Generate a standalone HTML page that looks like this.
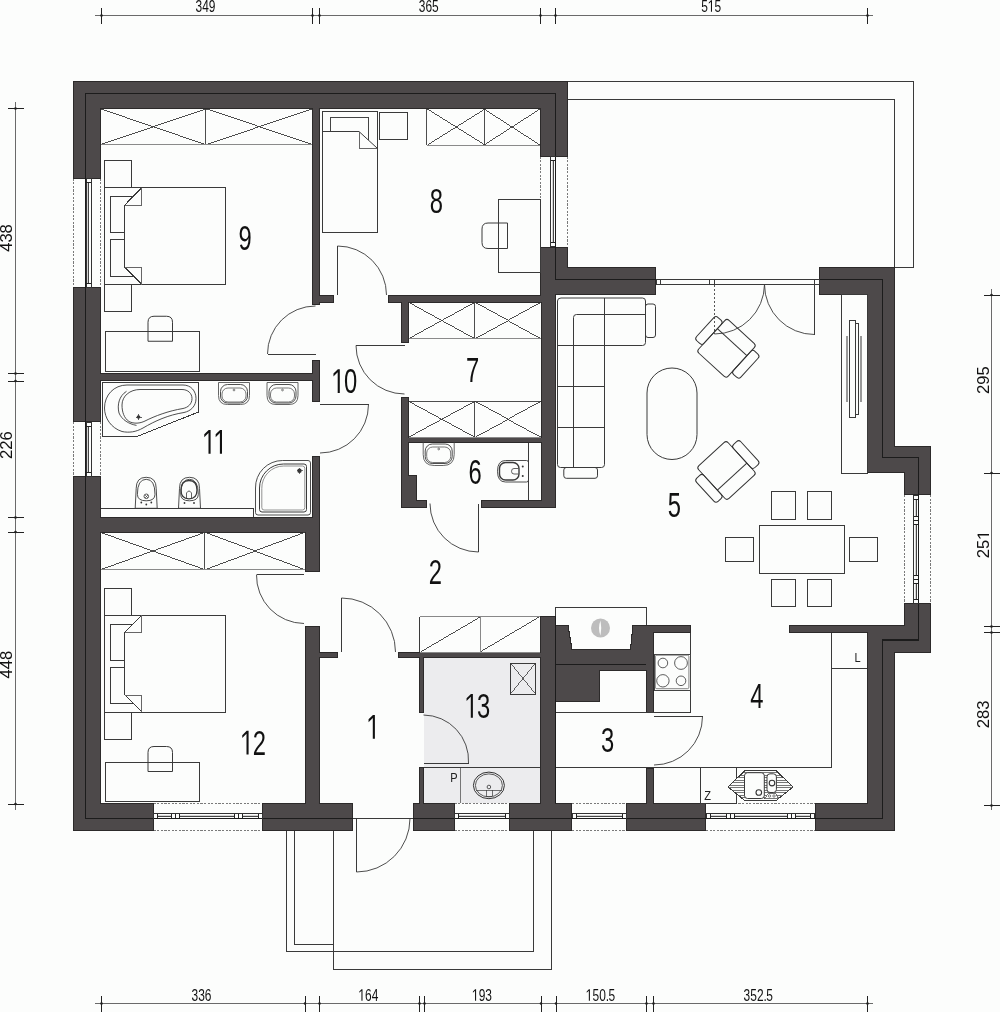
<!DOCTYPE html>
<html><head><meta charset="utf-8"><title>Floor plan</title>
<style>html,body{margin:0;padding:0;background:#fcfdfc;} svg{display:block;} svg{will-change:transform;}</style>
</head><body>
<svg width="1000" height="1012" viewBox="0 0 1000 1012" font-family="Liberation Sans, sans-serif" shape-rendering="crispEdges">
<rect x="0" y="0" width="1000" height="1012" fill="#fcfdfc"/>
<path d="M567,81.5 H913.5 V267.5 H894" stroke="#3a3a3a" stroke-width="1" fill="none" />
<path d="M567,99.5 H894.5 V268" stroke="#3a3a3a" stroke-width="1" fill="none" />
<path d="M286.5,831 V951.5 H533.5 V831" stroke="#3a3a3a" stroke-width="1" fill="none" />
<path d="M294.5,831 V944.5 H333.5" stroke="#3a3a3a" stroke-width="1" fill="none" />
<path d="M333.5,831 V969.5 H551.5 V831" stroke="#3a3a3a" stroke-width="1" fill="none" />
<rect x="423.5" y="657.5" width="116.5" height="145.5" fill="#ececee" />
<mask id="wm" maskUnits="userSpaceOnUse" x="0" y="0" width="1000" height="1012"><rect x="0" y="0" width="1000" height="1012" fill="#fff"/><rect x="73" y="178.5" width="28" height="108.5" fill="#000"/><rect x="73" y="422" width="28" height="54" fill="#000"/><rect x="540" y="156.5" width="28" height="90.0" fill="#000"/><rect x="904" y="495" width="27" height="108" fill="#000"/><rect x="153.5" y="803" width="108.5" height="28" fill="#000"/><rect x="454.5" y="803" width="54.5" height="28" fill="#000"/><rect x="572" y="803" width="54" height="28" fill="#000"/><rect x="706" y="803" width="108.5" height="28" fill="#000"/><rect x="352.5" y="803" width="60.5" height="28" fill="#000"/><rect x="656" y="267" width="163" height="28" fill="#000"/></mask>
<filter id="wf" filterUnits="userSpaceOnUse" x="0" y="0" width="1000" height="1012" color-interpolation-filters="sRGB">
<feMorphology in="SourceAlpha" operator="erode" radius="1" result="er"/>
<feFlood flood-color="#2c2a2a" result="c1"/><feComposite in="c1" in2="SourceAlpha" operator="in" result="dark"/>
<feFlood flood-color="#4d494a" result="c2"/><feComposite in="c2" in2="er" operator="in" result="inner"/>
<feMerge><feMergeNode in="dark"/><feMergeNode in="inner"/></feMerge></filter>
<g filter="url(#wf)"><g mask="url(#wm)">
<rect x="73" y="81" width="494" height="28" fill="#4d494a" />
<rect x="73" y="81" width="28" height="750" fill="#4d494a" />
<rect x="540" y="81" width="28" height="213" fill="#4d494a" />
<rect x="540" y="267" width="116" height="28" fill="#4d494a" />
<rect x="819" y="267" width="76" height="28" fill="#4d494a" />
<rect x="867" y="267" width="28" height="206" fill="#4d494a" />
<rect x="867" y="446" width="64" height="27" fill="#4d494a" />
<rect x="904" y="446" width="27" height="207" fill="#4d494a" />
<rect x="867" y="625" width="64" height="28" fill="#4d494a" />
<rect x="867" y="625" width="28" height="206" fill="#4d494a" />
<rect x="73" y="803" width="822" height="28" fill="#4d494a" />
<rect x="789" y="625" width="115" height="8" fill="#4d494a" />
<rect x="312" y="109" width="8" height="196" fill="#4d494a" />
<rect x="312" y="295" width="22" height="7.5" fill="#4d494a" />
<rect x="388" y="295" width="153" height="7.5" fill="#4d494a" />
<rect x="101" y="373" width="219" height="8" fill="#4d494a" />
<rect x="312" y="359.5" width="8" height="42.5" fill="#4d494a" />
<rect x="312" y="456" width="8" height="76" fill="#4d494a" />
<rect x="101" y="517" width="219" height="15.5" fill="#4d494a" />
<rect x="304.5" y="517" width="15.0" height="55" fill="#4d494a" />
<rect x="304.5" y="626" width="15.0" height="177" fill="#4d494a" />
<rect x="401" y="295" width="8" height="47.5" fill="#4d494a" />
<rect x="401" y="397" width="8" height="110.5" fill="#4d494a" />
<rect x="401" y="475" width="16" height="32.5" fill="#4d494a" />
<rect x="401" y="500" width="26" height="7.5" fill="#4d494a" />
<rect x="481" y="500" width="60" height="7.5" fill="#4d494a" />
<rect x="409" y="437" width="132" height="6" fill="#4d494a" />
<rect x="540.5" y="294" width="15.0" height="213.5" fill="#4d494a" />
<rect x="319.5" y="652" width="18.5" height="5.5" fill="#4d494a" />
<rect x="398" y="652" width="142" height="5.5" fill="#4d494a" />
<rect x="418.5" y="652" width="5.0" height="60.5" fill="#4d494a" />
<rect x="418.5" y="767" width="5.0" height="36" fill="#4d494a" />
<rect x="540" y="616" width="15.5" height="187" fill="#4d494a" />
<rect x="646" y="625" width="8" height="87.5" fill="#4d494a" />
<rect x="646" y="767.5" width="8" height="35.5" fill="#4d494a" />
<rect x="646" y="625" width="44.5" height="7.5" fill="#4d494a" />
<path d="M555.5,625 H568.5 L572.5,648.5 H630 L632.5,625 H646 V664.5 H555.5 Z" stroke="none" stroke-width="1" fill="#4d494a" />
<rect x="555.5" y="664.5" width="44.0" height="37.5" fill="#4d494a" />
<rect x="599.5" y="664.5" width="46.5" height="6.5" fill="#4d494a" />
</g></g>
<line x1="555.5" y1="664.5" x2="646" y2="664.5" stroke="#1c1c1c" stroke-width="1" />
<path d="M555.5,625 V607.5 H646.5 V625" stroke="#3a3a3a" stroke-width="1" fill="none" />
<line x1="555.5" y1="616" x2="555.5" y2="803" stroke="#1c1c1c" stroke-width="1" />
<circle shape-rendering="auto" cx="600.5" cy="628" r="9.5" fill="#bdbdbd"/>
<path d="M600.5,620.5 Q597.5,628 600.5,635.5 Q602,628 600.5,620.5 Z" stroke="none" stroke-width="1" fill="#fcfdfc"  shape-rendering="auto"/>
<path d="M85.5,818.5 V93.5 H555.5 V279.5 H656" stroke="#1c1c1c" stroke-width="1.2" fill="none" />
<path d="M819,279.5 H882.5 V457.5 H918.5 V640 H882.5 V818.5 H85.5" stroke="#1c1c1c" stroke-width="1.2" fill="none" />
<rect x="73" y="178.5" width="28" height="108.5" fill="#fcfdfc" />
<line x1="73.5" y1="178.5" x2="73.5" y2="287" stroke="#7a7a7a" stroke-width="1" stroke-dasharray="2.2,1.4"/>
<line x1="100.5" y1="178.5" x2="100.5" y2="287" stroke="#7a7a7a" stroke-width="1" stroke-dasharray="2.2,1.4"/>
<rect x="86" y="178.5" width="5" height="108.5" fill="none" stroke="#333" stroke-width="1" />
<rect x="87" y="182.5" width="1.5" height="100.5" fill="#d4d4d4" />
<line x1="88.5" y1="182.5" x2="88.5" y2="283" stroke="#444" stroke-width="1" />
<line x1="86" y1="182.5" x2="91" y2="182.5" stroke="#222" stroke-width="1" />
<line x1="86" y1="283" x2="91" y2="283" stroke="#222" stroke-width="1" />
<rect x="73" y="422" width="28" height="54" fill="#fcfdfc" />
<line x1="73.5" y1="422" x2="73.5" y2="476" stroke="#7a7a7a" stroke-width="1" stroke-dasharray="2.2,1.4"/>
<line x1="100.5" y1="422" x2="100.5" y2="476" stroke="#7a7a7a" stroke-width="1" stroke-dasharray="2.2,1.4"/>
<rect x="86" y="422" width="5" height="54" fill="none" stroke="#333" stroke-width="1" />
<rect x="87" y="426" width="1.5" height="46" fill="#d4d4d4" />
<line x1="88.5" y1="426" x2="88.5" y2="472" stroke="#444" stroke-width="1" />
<line x1="86" y1="426" x2="91" y2="426" stroke="#222" stroke-width="1" />
<line x1="86" y1="472" x2="91" y2="472" stroke="#222" stroke-width="1" />
<rect x="540" y="156.5" width="28" height="90.0" fill="#fcfdfc" />
<line x1="540.5" y1="156.5" x2="540.5" y2="246.5" stroke="#7a7a7a" stroke-width="1" stroke-dasharray="2.2,1.4"/>
<line x1="567.5" y1="156.5" x2="567.5" y2="246.5" stroke="#7a7a7a" stroke-width="1" stroke-dasharray="2.2,1.4"/>
<rect x="550.5" y="156.5" width="5.0" height="90.0" fill="none" stroke="#333" stroke-width="1" />
<rect x="551.5" y="160.5" width="1.5" height="82.0" fill="#d4d4d4" />
<line x1="553.0" y1="160.5" x2="553.0" y2="242.5" stroke="#444" stroke-width="1" />
<line x1="550.5" y1="160.5" x2="555.5" y2="160.5" stroke="#222" stroke-width="1" />
<line x1="550.5" y1="242.5" x2="555.5" y2="242.5" stroke="#222" stroke-width="1" />
<rect x="904" y="495" width="27" height="108" fill="#fcfdfc" />
<line x1="904.5" y1="495" x2="904.5" y2="603" stroke="#7a7a7a" stroke-width="1" stroke-dasharray="2.2,1.4"/>
<line x1="930.5" y1="495" x2="930.5" y2="603" stroke="#7a7a7a" stroke-width="1" stroke-dasharray="2.2,1.4"/>
<rect x="913.5" y="495" width="5.0" height="108" fill="none" stroke="#333" stroke-width="1" />
<rect x="914.5" y="499" width="1.5" height="17" fill="#d4d4d4" />
<line x1="916.0" y1="499" x2="916.0" y2="516" stroke="#444" stroke-width="1" />
<rect x="914.5" y="524" width="1.5" height="51.5" fill="#d4d4d4" />
<line x1="916.0" y1="524" x2="916.0" y2="575.5" stroke="#444" stroke-width="1" />
<rect x="914.5" y="583.5" width="1.5" height="15.5" fill="#d4d4d4" />
<line x1="916.0" y1="583.5" x2="916.0" y2="599" stroke="#444" stroke-width="1" />
<line x1="913.5" y1="499" x2="918.5" y2="499" stroke="#222" stroke-width="1" />
<line x1="913.5" y1="516" x2="918.5" y2="516" stroke="#222" stroke-width="1" />
<line x1="913.5" y1="524" x2="918.5" y2="524" stroke="#222" stroke-width="1" />
<line x1="913.5" y1="575.5" x2="918.5" y2="575.5" stroke="#222" stroke-width="1" />
<line x1="913.5" y1="583.5" x2="918.5" y2="583.5" stroke="#222" stroke-width="1" />
<line x1="913.5" y1="599" x2="918.5" y2="599" stroke="#222" stroke-width="1" />
<line x1="913.5" y1="520" x2="918.5" y2="520" stroke="#222" stroke-width="1" />
<line x1="913.5" y1="579.5" x2="918.5" y2="579.5" stroke="#222" stroke-width="1" />
<rect x="153.5" y="803" width="108.5" height="28" fill="#fcfdfc" />
<line x1="153.5" y1="803.5" x2="262" y2="803.5" stroke="#7a7a7a" stroke-width="1" stroke-dasharray="2.2,1.4"/>
<line x1="153.5" y1="830.5" x2="262" y2="830.5" stroke="#7a7a7a" stroke-width="1" stroke-dasharray="2.2,1.4"/>
<rect x="153.5" y="813.5" width="108.5" height="5.0" fill="none" stroke="#333" stroke-width="1" />
<rect x="157.5" y="814.5" width="14.0" height="1.5" fill="#d4d4d4" />
<line x1="157.5" y1="816.0" x2="171.5" y2="816.0" stroke="#444" stroke-width="1" />
<rect x="179.5" y="814.5" width="54.5" height="1.5" fill="#d4d4d4" />
<line x1="179.5" y1="816.0" x2="234" y2="816.0" stroke="#444" stroke-width="1" />
<rect x="242" y="814.5" width="16" height="1.5" fill="#d4d4d4" />
<line x1="242" y1="816.0" x2="258" y2="816.0" stroke="#444" stroke-width="1" />
<line x1="157.5" y1="813.5" x2="157.5" y2="818.5" stroke="#222" stroke-width="1" />
<line x1="171.5" y1="813.5" x2="171.5" y2="818.5" stroke="#222" stroke-width="1" />
<line x1="179.5" y1="813.5" x2="179.5" y2="818.5" stroke="#222" stroke-width="1" />
<line x1="234" y1="813.5" x2="234" y2="818.5" stroke="#222" stroke-width="1" />
<line x1="242" y1="813.5" x2="242" y2="818.5" stroke="#222" stroke-width="1" />
<line x1="258" y1="813.5" x2="258" y2="818.5" stroke="#222" stroke-width="1" />
<line x1="175.5" y1="813.5" x2="175.5" y2="818.5" stroke="#222" stroke-width="1" />
<line x1="238" y1="813.5" x2="238" y2="818.5" stroke="#222" stroke-width="1" />
<rect x="454.5" y="803" width="54.5" height="28" fill="#fcfdfc" />
<line x1="454.5" y1="803.5" x2="509" y2="803.5" stroke="#7a7a7a" stroke-width="1" stroke-dasharray="2.2,1.4"/>
<line x1="454.5" y1="830.5" x2="509" y2="830.5" stroke="#7a7a7a" stroke-width="1" stroke-dasharray="2.2,1.4"/>
<rect x="454.5" y="813.5" width="54.5" height="5.0" fill="none" stroke="#333" stroke-width="1" />
<rect x="458.5" y="814.5" width="46.5" height="1.5" fill="#d4d4d4" />
<line x1="458.5" y1="816.0" x2="505" y2="816.0" stroke="#444" stroke-width="1" />
<line x1="458.5" y1="813.5" x2="458.5" y2="818.5" stroke="#222" stroke-width="1" />
<line x1="505" y1="813.5" x2="505" y2="818.5" stroke="#222" stroke-width="1" />
<rect x="572" y="803" width="54" height="28" fill="#fcfdfc" />
<line x1="572" y1="803.5" x2="626" y2="803.5" stroke="#7a7a7a" stroke-width="1" stroke-dasharray="2.2,1.4"/>
<line x1="572" y1="830.5" x2="626" y2="830.5" stroke="#7a7a7a" stroke-width="1" stroke-dasharray="2.2,1.4"/>
<rect x="572" y="813.5" width="54" height="5.0" fill="none" stroke="#333" stroke-width="1" />
<rect x="576" y="814.5" width="46" height="1.5" fill="#d4d4d4" />
<line x1="576" y1="816.0" x2="622" y2="816.0" stroke="#444" stroke-width="1" />
<line x1="576" y1="813.5" x2="576" y2="818.5" stroke="#222" stroke-width="1" />
<line x1="622" y1="813.5" x2="622" y2="818.5" stroke="#222" stroke-width="1" />
<rect x="706" y="803" width="108.5" height="28" fill="#fcfdfc" />
<line x1="706" y1="803.5" x2="814.5" y2="803.5" stroke="#7a7a7a" stroke-width="1" stroke-dasharray="2.2,1.4"/>
<line x1="706" y1="830.5" x2="814.5" y2="830.5" stroke="#7a7a7a" stroke-width="1" stroke-dasharray="2.2,1.4"/>
<rect x="706" y="813.5" width="108.5" height="5.0" fill="none" stroke="#333" stroke-width="1" />
<rect x="710" y="814.5" width="16" height="1.5" fill="#d4d4d4" />
<line x1="710" y1="816.0" x2="726" y2="816.0" stroke="#444" stroke-width="1" />
<rect x="734" y="814.5" width="53" height="1.5" fill="#d4d4d4" />
<line x1="734" y1="816.0" x2="787" y2="816.0" stroke="#444" stroke-width="1" />
<rect x="795" y="814.5" width="15.5" height="1.5" fill="#d4d4d4" />
<line x1="795" y1="816.0" x2="810.5" y2="816.0" stroke="#444" stroke-width="1" />
<line x1="710" y1="813.5" x2="710" y2="818.5" stroke="#222" stroke-width="1" />
<line x1="726" y1="813.5" x2="726" y2="818.5" stroke="#222" stroke-width="1" />
<line x1="734" y1="813.5" x2="734" y2="818.5" stroke="#222" stroke-width="1" />
<line x1="787" y1="813.5" x2="787" y2="818.5" stroke="#222" stroke-width="1" />
<line x1="795" y1="813.5" x2="795" y2="818.5" stroke="#222" stroke-width="1" />
<line x1="810.5" y1="813.5" x2="810.5" y2="818.5" stroke="#222" stroke-width="1" />
<line x1="730" y1="813.5" x2="730" y2="818.5" stroke="#222" stroke-width="1" />
<line x1="791" y1="813.5" x2="791" y2="818.5" stroke="#222" stroke-width="1" />
<line x1="85.5" y1="178.5" x2="85.5" y2="287" stroke="#1c1c1c" stroke-width="1" />
<line x1="85.5" y1="422" x2="85.5" y2="476" stroke="#1c1c1c" stroke-width="1" />
<line x1="555.5" y1="156.5" x2="555.5" y2="246.5" stroke="#1c1c1c" stroke-width="1" />
<line x1="918.5" y1="495" x2="918.5" y2="603" stroke="#1c1c1c" stroke-width="1" />
<line x1="153.5" y1="818.5" x2="262" y2="818.5" stroke="#1c1c1c" stroke-width="1" />
<line x1="454.5" y1="818.5" x2="509" y2="818.5" stroke="#1c1c1c" stroke-width="1" />
<line x1="572" y1="818.5" x2="626" y2="818.5" stroke="#1c1c1c" stroke-width="1" />
<line x1="706" y1="818.5" x2="814.5" y2="818.5" stroke="#1c1c1c" stroke-width="1" />
<rect x="352.5" y="803" width="60.5" height="28" fill="#fcfdfc" />
<line x1="352.5" y1="818.5" x2="413" y2="818.5" stroke="#3a3a3a" stroke-width="1" />
<rect x="656" y="267" width="163" height="27" fill="#fcfdfc" />
<rect x="656" y="279.5" width="163" height="5.0" fill="none" stroke="#3a3a3a" stroke-width="1" />
<rect x="656" y="279.5" width="4.5" height="5.0" fill="none" stroke="#3a3a3a" stroke-width="1" />
<rect x="709" y="279.5" width="5.5" height="5.0" fill="none" stroke="#3a3a3a" stroke-width="1" />
<rect x="814" y="279.5" width="5" height="5.0" fill="none" stroke="#3a3a3a" stroke-width="1" />
<line x1="337.5" y1="295" x2="337.5" y2="246" stroke="#3a3a3a" stroke-width="1" />
<path d="M337.5,246 A49,49 0 0 1 386.5,295" stroke="#3a3a3a" stroke-width="0.9" fill="none"  shape-rendering="auto"/>
<line x1="315.5" y1="354" x2="267.5" y2="354" stroke="#3a3a3a" stroke-width="1" />
<path d="M267.5,354 A48,48 0 0 1 315.5,306" stroke="#3a3a3a" stroke-width="0.9" fill="none"  shape-rendering="auto"/>
<line x1="320" y1="404.5" x2="368.5" y2="404.5" stroke="#3a3a3a" stroke-width="1" />
<path d="M368.5,404.5 A48.5,48.5 0 0 1 320,453" stroke="#3a3a3a" stroke-width="0.9" fill="none"  shape-rendering="auto"/>
<line x1="404.5" y1="345.5" x2="356" y2="345.5" stroke="#3a3a3a" stroke-width="1" />
<path d="M356,345.5 A48.5,48.5 0 0 0 404.5,394" stroke="#3a3a3a" stroke-width="0.9" fill="none"  shape-rendering="auto"/>
<line x1="478.5" y1="503.5" x2="478.5" y2="552" stroke="#3a3a3a" stroke-width="1" />
<path d="M478.5,552 A48.5,48.5 0 0 1 430,503.5" stroke="#3a3a3a" stroke-width="0.9" fill="none"  shape-rendering="auto"/>
<line x1="304" y1="574.5" x2="256.5" y2="574.5" stroke="#3a3a3a" stroke-width="1" />
<path d="M256.5,574.5 A48,48 0 0 0 304,623.5" stroke="#3a3a3a" stroke-width="0.9" fill="none"  shape-rendering="auto"/>
<line x1="341.5" y1="652" x2="341.5" y2="598" stroke="#3a3a3a" stroke-width="1" />
<path d="M341.5,598 A54,54 0 0 1 395.5,652" stroke="#3a3a3a" stroke-width="0.9" fill="none"  shape-rendering="auto"/>
<line x1="423.5" y1="763" x2="468.5" y2="763" stroke="#3a3a3a" stroke-width="1" />
<path d="M468.5,763 A45.5,45.5 0 0 0 423.5,715" stroke="#3a3a3a" stroke-width="0.9" fill="none"  shape-rendering="auto"/>
<line x1="654" y1="716.5" x2="702.5" y2="716.5" stroke="#3a3a3a" stroke-width="1" />
<path d="M702.5,716.5 A48.5,48.5 0 0 1 654,765" stroke="#3a3a3a" stroke-width="0.9" fill="none"  shape-rendering="auto"/>
<line x1="356.5" y1="818.5" x2="356.5" y2="872" stroke="#3a3a3a" stroke-width="1" />
<path d="M356.5,872 A53.5,53.5 0 0 0 410,818.5" stroke="#3a3a3a" stroke-width="0.9" fill="none"  shape-rendering="auto"/>
<line x1="714.5" y1="284.5" x2="714.5" y2="334" stroke="#555" stroke-width="1" stroke-dasharray="2,2"/>
<path d="M714.5,334 A50,50 0 0 0 764.5,284.5" stroke="#3a3a3a" stroke-width="0.9" fill="none"  shape-rendering="auto"/>
<line x1="814.5" y1="284.5" x2="814.5" y2="334.5" stroke="#3a3a3a" stroke-width="1" />
<path d="M814.5,334.5 A50,50 0 0 1 764.5,284.5" stroke="#3a3a3a" stroke-width="0.9" fill="none"  shape-rendering="auto"/>
<line x1="101" y1="109" x2="205.5" y2="144.5" stroke="#3a3a3a" stroke-width="0.9" />
<line x1="101" y1="144.5" x2="205.5" y2="109" stroke="#3a3a3a" stroke-width="0.9" />
<line x1="205.5" y1="109" x2="312" y2="144.5" stroke="#3a3a3a" stroke-width="0.9" />
<line x1="205.5" y1="144.5" x2="312" y2="109" stroke="#3a3a3a" stroke-width="0.9" />
<line x1="205.5" y1="109" x2="205.5" y2="144.5" stroke="#3a3a3a" stroke-width="0.9" />
<line x1="101" y1="144.5" x2="312" y2="144.5" stroke="#8a8a8a" stroke-width="1" />
<line x1="426.5" y1="109" x2="484" y2="145" stroke="#3a3a3a" stroke-width="0.9" />
<line x1="426.5" y1="145" x2="484" y2="109" stroke="#3a3a3a" stroke-width="0.9" />
<line x1="484" y1="109" x2="540" y2="145" stroke="#3a3a3a" stroke-width="0.9" />
<line x1="484" y1="145" x2="540" y2="109" stroke="#3a3a3a" stroke-width="0.9" />
<line x1="484" y1="109" x2="484" y2="145" stroke="#3a3a3a" stroke-width="0.9" />
<line x1="426.5" y1="145" x2="540" y2="145" stroke="#8a8a8a" stroke-width="1" />
<line x1="426.5" y1="109" x2="426.5" y2="145" stroke="#3a3a3a" stroke-width="0.9" />
<line x1="409" y1="302.5" x2="474.5" y2="338.5" stroke="#3a3a3a" stroke-width="0.9" />
<line x1="409" y1="338.5" x2="474.5" y2="302.5" stroke="#3a3a3a" stroke-width="0.9" />
<line x1="474.5" y1="302.5" x2="540.5" y2="338.5" stroke="#3a3a3a" stroke-width="0.9" />
<line x1="474.5" y1="338.5" x2="540.5" y2="302.5" stroke="#3a3a3a" stroke-width="0.9" />
<line x1="474.5" y1="302.5" x2="474.5" y2="338.5" stroke="#3a3a3a" stroke-width="0.9" />
<line x1="409" y1="338.5" x2="540.5" y2="338.5" stroke="#8a8a8a" stroke-width="1" />
<line x1="409" y1="401.5" x2="474.5" y2="437" stroke="#3a3a3a" stroke-width="0.9" />
<line x1="409" y1="437" x2="474.5" y2="401.5" stroke="#3a3a3a" stroke-width="0.9" />
<line x1="474.5" y1="401.5" x2="540.5" y2="437" stroke="#3a3a3a" stroke-width="0.9" />
<line x1="474.5" y1="437" x2="540.5" y2="401.5" stroke="#3a3a3a" stroke-width="0.9" />
<line x1="474.5" y1="401.5" x2="474.5" y2="437" stroke="#3a3a3a" stroke-width="0.9" />
<line x1="409" y1="437" x2="540.5" y2="437" stroke="#8a8a8a" stroke-width="1" />
<line x1="409" y1="401.5" x2="540.5" y2="401.5" stroke="#3a3a3a" stroke-width="0.9" />
<line x1="101" y1="532.5" x2="204.5" y2="569.5" stroke="#3a3a3a" stroke-width="0.9" />
<line x1="101" y1="569.5" x2="204.5" y2="532.5" stroke="#3a3a3a" stroke-width="0.9" />
<line x1="204.5" y1="532.5" x2="304.5" y2="569.5" stroke="#3a3a3a" stroke-width="0.9" />
<line x1="204.5" y1="569.5" x2="304.5" y2="532.5" stroke="#3a3a3a" stroke-width="0.9" />
<line x1="204.5" y1="532.5" x2="204.5" y2="569.5" stroke="#3a3a3a" stroke-width="0.9" />
<line x1="101" y1="569.5" x2="304.5" y2="569.5" stroke="#8a8a8a" stroke-width="1" />
<line x1="419.5" y1="652" x2="480" y2="616.5" stroke="#3a3a3a" stroke-width="0.9" />
<line x1="419.5" y1="652" x2="480" y2="652" stroke="#8a8a8a" stroke-width="1" />
<line x1="480" y1="652" x2="540" y2="616.5" stroke="#3a3a3a" stroke-width="0.9" />
<line x1="480" y1="652" x2="540" y2="652" stroke="#8a8a8a" stroke-width="1" />
<line x1="419.5" y1="616.5" x2="540" y2="616.5" stroke="#888" stroke-width="1" />
<line x1="480" y1="616.5" x2="480" y2="652" stroke="#888" stroke-width="1" />
<line x1="419.5" y1="616.5" x2="419.5" y2="652" stroke="#3a3a3a" stroke-width="1" />
<line x1="95" y1="15.5" x2="873" y2="15.5" stroke="#6a6a6a" stroke-width="1" />
<line x1="101.5" y1="7.5" x2="101.5" y2="23.5" stroke="#222" stroke-width="1" />
<circle shape-rendering="auto" cx="101.5" cy="15.5" r="1.3" fill="#222" shape-rendering="auto"/>
<line x1="312.5" y1="7.5" x2="312.5" y2="23.5" stroke="#222" stroke-width="1" />
<circle shape-rendering="auto" cx="312.5" cy="15.5" r="1.3" fill="#222" shape-rendering="auto"/>
<line x1="319.5" y1="7.5" x2="319.5" y2="23.5" stroke="#222" stroke-width="1" />
<circle shape-rendering="auto" cx="319.5" cy="15.5" r="1.3" fill="#222" shape-rendering="auto"/>
<line x1="540.5" y1="7.5" x2="540.5" y2="23.5" stroke="#222" stroke-width="1" />
<circle shape-rendering="auto" cx="540.5" cy="15.5" r="1.3" fill="#222" shape-rendering="auto"/>
<line x1="555.5" y1="7.5" x2="555.5" y2="23.5" stroke="#222" stroke-width="1" />
<circle shape-rendering="auto" cx="555.5" cy="15.5" r="1.3" fill="#222" shape-rendering="auto"/>
<line x1="867.5" y1="7.5" x2="867.5" y2="23.5" stroke="#222" stroke-width="1" />
<circle shape-rendering="auto" cx="867.5" cy="15.5" r="1.3" fill="#222" shape-rendering="auto"/>
<line x1="95" y1="1003.5" x2="873" y2="1003.5" stroke="#6a6a6a" stroke-width="1" />
<line x1="101.5" y1="995.5" x2="101.5" y2="1011.5" stroke="#222" stroke-width="1" />
<circle shape-rendering="auto" cx="101.5" cy="1003.5" r="1.3" fill="#222" shape-rendering="auto"/>
<line x1="305" y1="995.5" x2="305" y2="1011.5" stroke="#222" stroke-width="1" />
<circle shape-rendering="auto" cx="305" cy="1003.5" r="1.3" fill="#222" shape-rendering="auto"/>
<line x1="319.5" y1="995.5" x2="319.5" y2="1011.5" stroke="#222" stroke-width="1" />
<circle shape-rendering="auto" cx="319.5" cy="1003.5" r="1.3" fill="#222" shape-rendering="auto"/>
<line x1="419.5" y1="995.5" x2="419.5" y2="1011.5" stroke="#222" stroke-width="1" />
<circle shape-rendering="auto" cx="419.5" cy="1003.5" r="1.3" fill="#222" shape-rendering="auto"/>
<line x1="424.5" y1="995.5" x2="424.5" y2="1011.5" stroke="#222" stroke-width="1" />
<circle shape-rendering="auto" cx="424.5" cy="1003.5" r="1.3" fill="#222" shape-rendering="auto"/>
<line x1="541" y1="995.5" x2="541" y2="1011.5" stroke="#222" stroke-width="1" />
<circle shape-rendering="auto" cx="541" cy="1003.5" r="1.3" fill="#222" shape-rendering="auto"/>
<line x1="556" y1="995.5" x2="556" y2="1011.5" stroke="#222" stroke-width="1" />
<circle shape-rendering="auto" cx="556" cy="1003.5" r="1.3" fill="#222" shape-rendering="auto"/>
<line x1="646.5" y1="995.5" x2="646.5" y2="1011.5" stroke="#222" stroke-width="1" />
<circle shape-rendering="auto" cx="646.5" cy="1003.5" r="1.3" fill="#222" shape-rendering="auto"/>
<line x1="653.5" y1="995.5" x2="653.5" y2="1011.5" stroke="#222" stroke-width="1" />
<circle shape-rendering="auto" cx="653.5" cy="1003.5" r="1.3" fill="#222" shape-rendering="auto"/>
<line x1="867.5" y1="995.5" x2="867.5" y2="1011.5" stroke="#222" stroke-width="1" />
<circle shape-rendering="auto" cx="867.5" cy="1003.5" r="1.3" fill="#222" shape-rendering="auto"/>
<line x1="15.5" y1="102" x2="15.5" y2="810" stroke="#6a6a6a" stroke-width="1" />
<line x1="7.5" y1="108.5" x2="23.5" y2="108.5" stroke="#222" stroke-width="1" />
<circle shape-rendering="auto" cx="15.5" cy="108.5" r="1.3" fill="#222" shape-rendering="auto"/>
<line x1="7.5" y1="373.5" x2="23.5" y2="373.5" stroke="#222" stroke-width="1" />
<circle shape-rendering="auto" cx="15.5" cy="373.5" r="1.3" fill="#222" shape-rendering="auto"/>
<line x1="7.5" y1="381" x2="23.5" y2="381" stroke="#222" stroke-width="1" />
<circle shape-rendering="auto" cx="15.5" cy="381" r="1.3" fill="#222" shape-rendering="auto"/>
<line x1="7.5" y1="517.5" x2="23.5" y2="517.5" stroke="#222" stroke-width="1" />
<circle shape-rendering="auto" cx="15.5" cy="517.5" r="1.3" fill="#222" shape-rendering="auto"/>
<line x1="7.5" y1="532" x2="23.5" y2="532" stroke="#222" stroke-width="1" />
<circle shape-rendering="auto" cx="15.5" cy="532" r="1.3" fill="#222" shape-rendering="auto"/>
<line x1="7.5" y1="804" x2="23.5" y2="804" stroke="#222" stroke-width="1" />
<circle shape-rendering="auto" cx="15.5" cy="804" r="1.3" fill="#222" shape-rendering="auto"/>
<line x1="991.5" y1="289" x2="991.5" y2="810" stroke="#6a6a6a" stroke-width="1" />
<line x1="983.5" y1="295" x2="999.5" y2="295" stroke="#222" stroke-width="1" />
<circle shape-rendering="auto" cx="991.5" cy="295" r="1.3" fill="#222" shape-rendering="auto"/>
<line x1="983.5" y1="473" x2="999.5" y2="473" stroke="#222" stroke-width="1" />
<circle shape-rendering="auto" cx="991.5" cy="473" r="1.3" fill="#222" shape-rendering="auto"/>
<line x1="983.5" y1="626.5" x2="999.5" y2="626.5" stroke="#222" stroke-width="1" />
<circle shape-rendering="auto" cx="991.5" cy="626.5" r="1.3" fill="#222" shape-rendering="auto"/>
<line x1="983.5" y1="632.5" x2="999.5" y2="632.5" stroke="#222" stroke-width="1" />
<circle shape-rendering="auto" cx="991.5" cy="632.5" r="1.3" fill="#222" shape-rendering="auto"/>
<line x1="983.5" y1="805.5" x2="999.5" y2="805.5" stroke="#222" stroke-width="1" />
<circle shape-rendering="auto" cx="991.5" cy="805.5" r="1.3" fill="#222" shape-rendering="auto"/>
<g transform="translate(205.5,11.8) rotate(0)" shape-rendering="auto"><text transform="translate(-9.97,0) scale(0.72,1)" font-size="16.6" fill="#111">3</text><text transform="translate(-3.32,0) scale(0.72,1)" font-size="16.6" fill="#111">4</text><text transform="translate(3.32,0) scale(0.72,1)" font-size="16.6" fill="#111">9</text></g>
<g transform="translate(428.75,11.8) rotate(0)" shape-rendering="auto"><text transform="translate(-9.97,0) scale(0.72,1)" font-size="16.6" fill="#111">3</text><text transform="translate(-3.32,0) scale(0.72,1)" font-size="16.6" fill="#111">6</text><text transform="translate(3.32,0) scale(0.72,1)" font-size="16.6" fill="#111">5</text></g>
<g transform="translate(711.25,11.8) rotate(0)" shape-rendering="auto"><text transform="translate(-9.97,0) scale(0.72,1)" font-size="16.6" fill="#111">5</text><path transform="translate(-3.32,0) scale(0.00584,-0.00811)" d="M515,0 L515,1237 L150,985 L150,1155 L530,1409 L696,1409 L696,0 Z" fill="#111"/><text transform="translate(3.32,0) scale(0.72,1)" font-size="16.6" fill="#111">5</text></g>
<g transform="translate(201.5,1000.8) rotate(0)" shape-rendering="auto"><text transform="translate(-9.97,0) scale(0.72,1)" font-size="16.6" fill="#111">3</text><text transform="translate(-3.32,0) scale(0.72,1)" font-size="16.6" fill="#111">3</text><text transform="translate(3.32,0) scale(0.72,1)" font-size="16.6" fill="#111">6</text></g>
<g transform="translate(368.4,1000.8) rotate(0)" shape-rendering="auto"><path transform="translate(-9.97,0) scale(0.00584,-0.00811)" d="M515,0 L515,1237 L150,985 L150,1155 L530,1409 L696,1409 L696,0 Z" fill="#111"/><text transform="translate(-3.32,0) scale(0.72,1)" font-size="16.6" fill="#111">6</text><text transform="translate(3.32,0) scale(0.72,1)" font-size="16.6" fill="#111">4</text></g>
<g transform="translate(482,1000.8) rotate(0)" shape-rendering="auto"><path transform="translate(-9.97,0) scale(0.00584,-0.00811)" d="M515,0 L515,1237 L150,985 L150,1155 L530,1409 L696,1409 L696,0 Z" fill="#111"/><text transform="translate(-3.32,0) scale(0.72,1)" font-size="16.6" fill="#111">9</text><text transform="translate(3.32,0) scale(0.72,1)" font-size="16.6" fill="#111">3</text></g>
<g transform="translate(600.5,1000.8) rotate(0)" shape-rendering="auto"><path transform="translate(-14.67,0) scale(0.00584,-0.00811)" d="M515,0 L515,1237 L150,985 L150,1155 L530,1409 L696,1409 L696,0 Z" fill="#111"/><text transform="translate(-8.02,0) scale(0.72,1)" font-size="16.6" fill="#111">5</text><text transform="translate(-1.37,0) scale(0.72,1)" font-size="16.6" fill="#111">0</text><text transform="translate(5.28,0) scale(0.72,1)" font-size="16.6" fill="#111">.</text><text transform="translate(8.02,0) scale(0.72,1)" font-size="16.6" fill="#111">5</text></g>
<g transform="translate(758.25,1000.8) rotate(0)" shape-rendering="auto"><text transform="translate(-14.67,0) scale(0.72,1)" font-size="16.6" fill="#111">3</text><text transform="translate(-8.02,0) scale(0.72,1)" font-size="16.6" fill="#111">5</text><text transform="translate(-1.37,0) scale(0.72,1)" font-size="16.6" fill="#111">2</text><text transform="translate(5.28,0) scale(0.72,1)" font-size="16.6" fill="#111">.</text><text transform="translate(8.02,0) scale(0.72,1)" font-size="16.6" fill="#111">5</text></g>
<g transform="translate(11.9,238) rotate(-90)" shape-rendering="auto"><text transform="translate(-13.85,0) scale(1,1)" font-size="16.6" fill="#111">4</text><text transform="translate(-4.62,0) scale(1,1)" font-size="16.6" fill="#111">3</text><text transform="translate(4.62,0) scale(1,1)" font-size="16.6" fill="#111">8</text></g>
<g transform="translate(11.9,445.2) rotate(-90)" shape-rendering="auto"><text transform="translate(-13.85,0) scale(1,1)" font-size="16.6" fill="#111">2</text><text transform="translate(-4.62,0) scale(1,1)" font-size="16.6" fill="#111">2</text><text transform="translate(4.62,0) scale(1,1)" font-size="16.6" fill="#111">6</text></g>
<g transform="translate(11.9,664.7) rotate(-90)" shape-rendering="auto"><text transform="translate(-13.85,0) scale(1,1)" font-size="16.6" fill="#111">4</text><text transform="translate(-4.62,0) scale(1,1)" font-size="16.6" fill="#111">4</text><text transform="translate(4.62,0) scale(1,1)" font-size="16.6" fill="#111">8</text></g>
<g transform="translate(989,380.2) rotate(-90)" shape-rendering="auto"><text transform="translate(-13.85,0) scale(1,1)" font-size="16.6" fill="#111">2</text><text transform="translate(-4.62,0) scale(1,1)" font-size="16.6" fill="#111">9</text><text transform="translate(4.62,0) scale(1,1)" font-size="16.6" fill="#111">5</text></g>
<g transform="translate(989,544.3) rotate(-90)" shape-rendering="auto"><text transform="translate(-13.85,0) scale(1,1)" font-size="16.6" fill="#111">2</text><text transform="translate(-4.62,0) scale(1,1)" font-size="16.6" fill="#111">5</text><path transform="translate(4.62,0) scale(0.00811,-0.00811)" d="M515,0 L515,1237 L150,985 L150,1155 L530,1409 L696,1409 L696,0 Z" fill="#111"/></g>
<g transform="translate(989,714.3) rotate(-90)" shape-rendering="auto"><text transform="translate(-13.85,0) scale(1,1)" font-size="16.6" fill="#111">2</text><text transform="translate(-4.62,0) scale(1,1)" font-size="16.6" fill="#111">8</text><text transform="translate(4.62,0) scale(1,1)" font-size="16.6" fill="#111">3</text></g>
<text transform="translate(245,250.2) scale(0.69,1)" font-size="34.5" text-anchor="middle" fill="#111">9</text>
<text transform="translate(436.25,213) scale(0.69,1)" font-size="34.5" text-anchor="middle" fill="#111">8</text>
<text transform="translate(472.6,382.2) scale(0.69,1)" font-size="34.5" text-anchor="middle" fill="#111">7</text>
<text transform="translate(475,483.75) scale(0.69,1)" font-size="34.5" text-anchor="middle" fill="#111">6</text>
<text transform="translate(674.4,517.3) scale(0.69,1)" font-size="34.5" text-anchor="middle" fill="#111">5</text>
<text transform="translate(435.4,583.75) scale(0.69,1)" font-size="34.5" text-anchor="middle" fill="#111">2</text>
<text transform="translate(607.5,752) scale(0.69,1)" font-size="34.5" text-anchor="middle" fill="#111">3</text>
<text transform="translate(756.9,708) scale(0.69,1)" font-size="34.5" text-anchor="middle" fill="#111">4</text>
<path transform="translate(331.71,393) scale(0.01162,-0.01685)" d="M515,0 L515,1237 L150,985 L150,1155 L530,1409 L696,1409 L696,0 Z" fill="#111" shape-rendering="auto"/>
<text transform="translate(350.6,393) scale(0.69,1)" font-size="34.5" text-anchor="middle" fill="#111">0</text>
<path transform="translate(202.51,453.8) scale(0.01162,-0.01685)" d="M515,0 L515,1237 L150,985 L150,1155 L530,1409 L696,1409 L696,0 Z" fill="#111" shape-rendering="auto"/>
<path transform="translate(213.91,453.8) scale(0.01162,-0.01685)" d="M515,0 L515,1237 L150,985 L150,1155 L530,1409 L696,1409 L696,0 Z" fill="#111" shape-rendering="auto"/>
<path transform="translate(240.51,754.6) scale(0.01162,-0.01685)" d="M515,0 L515,1237 L150,985 L150,1155 L530,1409 L696,1409 L696,0 Z" fill="#111" shape-rendering="auto"/>
<text transform="translate(259.35,754.6) scale(0.69,1)" font-size="34.5" text-anchor="middle" fill="#111">2</text>
<path transform="translate(464.81,717.7) scale(0.01162,-0.01685)" d="M515,0 L515,1237 L150,985 L150,1155 L530,1409 L696,1409 L696,0 Z" fill="#111" shape-rendering="auto"/>
<text transform="translate(483.55,717.5) scale(0.69,1)" font-size="34.5" text-anchor="middle" fill="#111">3</text>
<path transform="translate(366.81,738.8) scale(0.01162,-0.01685)" d="M515,0 L515,1237 L150,985 L150,1155 L530,1409 L696,1409 L696,0 Z" fill="#111" shape-rendering="auto"/>
<rect x="104.5" y="160.5" width="27.0" height="27.0" fill="none" stroke="#3a3a3a" stroke-width="1" />
<rect x="104.5" y="284.5" width="27.0" height="27.0" fill="none" stroke="#3a3a3a" stroke-width="1" />
<rect x="104.5" y="187.5" width="121.0" height="97.0" fill="none" stroke="#3a3a3a" stroke-width="1" />
<path d="M132.5,196.5 H110.5 V232.5 H124.8" stroke="#3a3a3a" stroke-width="1" fill="none" />
<path d="M124.8,239.5 H110.5 V276.0 H132.5" stroke="#3a3a3a" stroke-width="1" fill="none" />
<path d="M141.8,187.5 L124.8,205.0 V267.5 L141.8,284.5" stroke="#3a3a3a" stroke-width="1" fill="none" />
<path d="M124.8,205.0 H141.8 V187.5" stroke="#666" stroke-width="1" fill="none" />
<path d="M124.8,267.5 H141.8 V284.5" stroke="#666" stroke-width="1" fill="none" />
<rect x="105" y="331.75" width="94.5" height="39.5" fill="none" stroke="#3a3a3a" stroke-width="1" />
<path d="M148,341.25 V322.25 Q148,316.25 154,316.25 H166.5 Q172.5,316.25 172.5,322.25 V341.25 Z" stroke="#3a3a3a" stroke-width="1" fill="none"  shape-rendering="auto"/>
<rect x="104.5" y="588" width="27.0" height="27" fill="none" stroke="#3a3a3a" stroke-width="1" />
<rect x="104.5" y="712" width="27.0" height="27" fill="none" stroke="#3a3a3a" stroke-width="1" />
<rect x="104.5" y="615" width="121.0" height="97" fill="none" stroke="#3a3a3a" stroke-width="1" />
<path d="M132.5,624 H110.5 V660 H124.8" stroke="#3a3a3a" stroke-width="1" fill="none" />
<path d="M124.8,667 H110.5 V703.5 H132.5" stroke="#3a3a3a" stroke-width="1" fill="none" />
<path d="M141.8,615 L124.8,632.5 V695 L141.8,712" stroke="#3a3a3a" stroke-width="1" fill="none" />
<path d="M124.8,632.5 H141.8 V615" stroke="#666" stroke-width="1" fill="none" />
<path d="M124.8,695 H141.8 V712" stroke="#666" stroke-width="1" fill="none" />
<rect x="105" y="762" width="94.5" height="39.5" fill="none" stroke="#3a3a3a" stroke-width="1" />
<path d="M148,771.5 V752.5 Q148,746.5 154,746.5 H166.5 Q172.5,746.5 172.5,752.5 V771.5 Z" stroke="#3a3a3a" stroke-width="1" fill="none"  shape-rendering="auto"/>
<rect x="322.5" y="111.5" width="54.5" height="121.0" fill="none" stroke="#3a3a3a" stroke-width="1" />
<path d="M330.5,131.5 V117.5 H368 V139.75" stroke="#444" stroke-width="1" fill="none" />
<path d="M322.5,131.5 H359 L377,148" stroke="#3a3a3a" stroke-width="1" fill="none" shape-rendering="auto"/>
<path d="M359,131.5 V148 H377" stroke="#666" stroke-width="1" fill="none" />
<rect x="379.5" y="112" width="28.0" height="27" fill="none" stroke="#3a3a3a" stroke-width="1" />
<rect x="498" y="199" width="42" height="73.5" fill="none" stroke="#3a3a3a" stroke-width="1" />
<path d="M507.5,223 H488 Q482,223 482,229 V242.5 Q482,248.5 488,248.5 H507.5 Z" stroke="#3a3a3a" stroke-width="1" fill="none"  shape-rendering="auto"/>
<path d="M102.5,382 H198.5 V412 L137,436.5 H102.5 Z" stroke="#3a3a3a" stroke-width="1" fill="none" />
<path d="M127,385 H183 C191,385 196,391 196,398.5 C196,406 191,411 184,412.5 C168,415 155,421 143,428 C136,432 129,433 122,431.5 C111,428 104.5,418 104.5,408 C104.5,395 114,385 127,385 Z" stroke="#3a3a3a" stroke-width="0.9" fill="none"  shape-rendering="auto"/>
<path d="M140,389.5 H182 C188,389.5 192,393.5 192,398.5 C192,404 188,407.5 183,408.5 C168,411 155,416 145,421 C140,423.5 134,424 129,421.5 C124,418 122,412 122,405 C122,396 130,389.5 140,389.5 Z" stroke="#3a3a3a" stroke-width="0.9" fill="none"  shape-rendering="auto"/>
<path d="M126.5,391.3 C119,396 117,405 119,413 C122,420 129,424 136.5,425.4" stroke="#3a3a3a" stroke-width="0.9" fill="none"  shape-rendering="auto"/>
<circle shape-rendering="auto" cx="138.5" cy="417" r="1.8" fill="#333"/>
<path d="M135.5,417 H141.5 M138.5,414 V420" stroke="#3a3a3a" stroke-width="0.8" fill="none" />
<path d="M218.5,382.5 H249.5 V395.5 Q249.5,404.5 240.5,404.5 H227.5 Q218.5,404.5 218.5,395.5 Z" stroke="#555" stroke-width="0.9" fill="none"  shape-rendering="auto"/>
<rect x="220.5" y="384.5" width="27.0" height="18.5" fill="none" stroke="#3a3a3a" stroke-width="0.9" rx="7" shape-rendering="auto"/>
<rect x="222.0" y="388.0" width="24.0" height="14.0" fill="none" stroke="#555" stroke-width="0.8" rx="6" shape-rendering="auto"/>
<circle shape-rendering="auto" cx="234.0" cy="390.0" r="0.9" fill="none" stroke="#333" stroke-width="0.6"/>
<path d="M267,382.5 H298 V395.5 Q298,404.5 289,404.5 H276 Q267,404.5 267,395.5 Z" stroke="#555" stroke-width="0.9" fill="none"  shape-rendering="auto"/>
<rect x="269" y="384.5" width="27" height="18.5" fill="none" stroke="#3a3a3a" stroke-width="0.9" rx="7" shape-rendering="auto"/>
<rect x="270.5" y="388.0" width="24.0" height="14.0" fill="none" stroke="#555" stroke-width="0.8" rx="6" shape-rendering="auto"/>
<circle shape-rendering="auto" cx="282.5" cy="390.0" r="0.9" fill="none" stroke="#333" stroke-width="0.6"/>
<path d="M135.2,508.3 L136.2,488.3 Q136.2,477.3 146.2,477.3 Q156.2,477.3 156.2,488.3 L157.2,508.3 Z" stroke="#3a3a3a" stroke-width="0.9" fill="none"  shape-rendering="auto"/>
<path d="M137.39999999999998,494.3 Q137.39999999999998,479.3 146.2,479.3 Q155.0,479.3 155.0,494.3 Q155.0,500.8 146.2,500.8 Q137.39999999999998,500.8 137.39999999999998,494.3 Z" stroke="#3a3a3a" stroke-width="0.9" fill="none"  shape-rendering="auto"/>
<circle shape-rendering="auto" cx="146.3" cy="496.3" r="2.3" fill="none" stroke="#333" stroke-width="0.8"/>
<path d="M144.6,494.6 L148,498 M148,494.6 L144.6,498" stroke="#3a3a3a" stroke-width="0.6" fill="none" />
<circle shape-rendering="auto" cx="141.3" cy="502.5" r="0.9" fill="#333"/><circle shape-rendering="auto" cx="151.3" cy="502.5" r="0.9" fill="#333"/><circle shape-rendering="auto" cx="146.3" cy="504.5" r="0.9" fill="#333"/>
<path d="M178.5,508.3 L179.5,488.3 Q179.5,477.3 189.5,477.3 Q199.5,477.3 199.5,488.3 L200.5,508.3 Z" stroke="#3a3a3a" stroke-width="0.9" fill="none"  shape-rendering="auto"/>
<path d="M180.7,494.3 Q180.7,479.3 189.5,479.3 Q198.3,479.3 198.3,494.3 Q198.3,500.8 189.5,500.8 Q180.7,500.8 180.7,494.3 Z" stroke="#3a3a3a" stroke-width="0.9" fill="none"  shape-rendering="auto"/>
<path d="M181,490 Q181,480.5 189,480.5 Q197,480.5 197,490 Q197,498.8 189,498.8 Q181,498.8 181,490 Z" stroke="#3a3a3a" stroke-width="1.3" fill="none"  shape-rendering="auto"/>
<path d="M186.5,498 V493 Q189,489 191.5,493 V498" stroke="#3a3a3a" stroke-width="0.8" fill="none"  shape-rendering="auto"/>
<circle shape-rendering="auto" cx="184.5" cy="503" r="0.9" fill="#333"/><circle shape-rendering="auto" cx="194" cy="503" r="0.9" fill="#333"/>
<path d="M101,508.5 H253.5 V517" stroke="#3a3a3a" stroke-width="1" fill="none" />
<path d="M255.5,488 A27,27 0 0 1 282.5,460.5 H308 Q310.5,460.5 310.5,463 V512.5 Q310.5,515 308,515 H258 Q255.5,515 255.5,512.5 Z" stroke="#3a3a3a" stroke-width="0.9" fill="none"  shape-rendering="auto"/>
<path d="M259.5,488 A24,24 0 0 1 283.5,464 H304 Q306.5,464 306.5,466.5 V509.5 Q306.5,512 304,512 H262 Q259.5,512 259.5,509.5 Z" stroke="#3a3a3a" stroke-width="1" fill="none"  shape-rendering="auto"/>
<path d="M261.8,488.5 A22,22 0 0 1 283.8,466 H302.5 Q304.8,466 304.8,468.5 V507.5 Q304.8,510 302.5,510 H264 Q261.8,510 261.8,507.5 Z" stroke="#777" stroke-width="0.8" fill="none"  shape-rendering="auto"/>
<circle shape-rendering="auto" cx="299.5" cy="470.8" r="2.2" fill="#333"/>
<path d="M296.5,470.8 H302.5 M299.5,467.8 V473.8" stroke="#3a3a3a" stroke-width="0.7" fill="none" />
<path d="M423.2,442.5 V454.5 Q423.2,465.5 434.2,465.5 H443.2 Q454.2,465.5 454.2,454.5 V442.5" stroke="#555" stroke-width="0.9" fill="none"  shape-rendering="auto"/>
<rect x="425.2" y="444.0" width="27.0" height="19.5" fill="none" stroke="#3a3a3a" stroke-width="0.9" rx="7" shape-rendering="auto"/>
<rect x="426.7" y="447.0" width="24.0" height="15.5" fill="none" stroke="#555" stroke-width="0.8" rx="6" shape-rendering="auto"/>
<circle shape-rendering="auto" cx="438.7" cy="449.0" r="0.9" fill="none" stroke="#333" stroke-width="0.6"/>
<line x1="528.7" y1="442.5" x2="528.7" y2="500" stroke="#3a3a3a" stroke-width="1" />
<path d="M526.5,460.5 H505.5 Q497.5,460.5 497.5,471.25 Q497.5,482 505.5,482 H526.5 Q528.5,482 528.5,480 V462.5 Q528.5,460.5 526.5,460.5 Z" stroke="#3a3a3a" stroke-width="0.9" fill="none"  shape-rendering="auto"/>
<rect x="499.5" y="462.5" width="19.5" height="17.5" fill="none" stroke="#3a3a3a" stroke-width="1.4" rx="6" shape-rendering="auto"/>
<path d="M518.5,468.5 H514 Q511.5,468.5 511.5,471.25 Q511.5,474 514,474 H518.5" stroke="#3a3a3a" stroke-width="0.8" fill="none"  shape-rendering="auto"/>
<circle shape-rendering="auto" cx="522.75" cy="466.5" r="1" fill="#333"/><circle shape-rendering="auto" cx="522.75" cy="476" r="1" fill="#333"/>
<path d="M561,298 H642.5 Q645.5,298 645.5,301 V342.5 Q645.5,345.5 642.5,345.5 H604.5 V464.5 Q604.5,467.5 601.5,467.5 H560.5 Q557.5,467.5 557.5,464.5 V301 Q557.5,298 561,298 Z" stroke="#3a3a3a" stroke-width="1" fill="none"  shape-rendering="auto"/>
<path d="M604.5,345.5 V298 M573.5,467.5 V317.5 Q573.5,314.5 576.5,314.5 H645.5" stroke="#3a3a3a" stroke-width="1" fill="none"  shape-rendering="auto"/>
<path d="M557.5,345.5 H604.5 M557.5,386.5 H604.5 M557.5,427 H604.5" stroke="#3a3a3a" stroke-width="1" fill="none" />
<rect x="645.5" y="304" width="10.0" height="33.5" fill="none" stroke="#3a3a3a" stroke-width="1" rx="2.5" shape-rendering="auto"/>
<rect x="563.8" y="467.5" width="33.700000000000045" height="10.800000000000011" fill="none" stroke="#3a3a3a" stroke-width="1" rx="2.5" shape-rendering="auto"/>
<rect x="647" y="368" width="50" height="91.5" fill="none" stroke="#3a3a3a" stroke-width="1" rx="25" ry="25" shape-rendering="auto"/>
<g transform="translate(726.5,348.3) rotate(42.5)" fill="none" stroke="#333" stroke-width="1" shape-rendering="auto"><rect x="-20" y="-22.3" width="40" height="44.6" rx="3"/><line x1="-20" y1="-8.3" x2="20" y2="-8.3"/><rect x="-30" y="-17" width="10" height="31.5" rx="3"/><rect x="20" y="-17" width="10" height="31.5" rx="3"/></g>
<g transform="translate(726.5,470.5) rotate(137.5)" fill="none" stroke="#333" stroke-width="1" shape-rendering="auto"><rect x="-20" y="-22.3" width="40" height="44.6" rx="3"/><line x1="-20" y1="-8.3" x2="20" y2="-8.3"/><rect x="-30" y="-17" width="10" height="31.5" rx="3"/><rect x="20" y="-17" width="10" height="31.5" rx="3"/></g>
<rect x="841.5" y="294.5" width="25.5" height="178.5" fill="none" stroke="#3a3a3a" stroke-width="1" />
<rect x="849.5" y="320" width="6.0" height="97.5" fill="none" stroke="#3a3a3a" stroke-width="1" />
<rect x="855.5" y="323" width="3.0" height="91.5" fill="none" stroke="#3a3a3a" stroke-width="1" />
<line x1="847" y1="335.5" x2="847" y2="401.5" stroke="#999" stroke-width="1.2" />
<line x1="861" y1="335.5" x2="861" y2="401.5" stroke="#999" stroke-width="1.2" />
<rect x="759.5" y="525" width="84.5" height="48.5" fill="none" stroke="#3a3a3a" stroke-width="1" />
<rect x="771.5" y="491.5" width="24.0" height="28.0" fill="none" stroke="#3a3a3a" stroke-width="1" />
<rect x="807.5" y="491.5" width="24.0" height="28.0" fill="none" stroke="#3a3a3a" stroke-width="1" />
<rect x="771.5" y="579.5" width="24.0" height="27.0" fill="none" stroke="#3a3a3a" stroke-width="1" />
<rect x="807.5" y="579.5" width="24.0" height="27.0" fill="none" stroke="#3a3a3a" stroke-width="1" />
<rect x="725.5" y="537" width="28.0" height="24.5" fill="none" stroke="#3a3a3a" stroke-width="1" />
<rect x="849.5" y="537" width="28.0" height="24.5" fill="none" stroke="#3a3a3a" stroke-width="1" />
<path d="M555.5,712.5 H690.5 V632.5" stroke="#3a3a3a" stroke-width="1" fill="none" />
<rect x="654" y="654.2" width="36.39999999999998" height="36.19999999999993" fill="none" stroke="#444" stroke-width="1" />
<rect x="655.3" y="655.2" width="33.60000000000002" height="33.5" fill="none" stroke="#666" stroke-width="0.8" rx="1.5" shape-rendering="auto"/>
<circle shape-rendering="auto" cx="662.9" cy="663" r="4.8" fill="none" stroke="#333" stroke-width="0.8"/>
<circle shape-rendering="auto" cx="681" cy="663" r="6.4" fill="none" stroke="#333" stroke-width="0.8"/>
<circle shape-rendering="auto" cx="662.9" cy="680.8" r="6.2" fill="none" stroke="#333" stroke-width="0.8"/>
<circle shape-rendering="auto" cx="681" cy="680.8" r="4.8" fill="none" stroke="#333" stroke-width="0.8"/>
<path d="M555.5,767.5 H831 V632.5" stroke="#3a3a3a" stroke-width="1" fill="none" />
<line x1="830.5" y1="668.3" x2="867" y2="668.3" stroke="#3a3a3a" stroke-width="1" />
<rect x="700.5" y="767.5" width="36.0" height="35.5" fill="none" stroke="#3a3a3a" stroke-width="1" />
<clipPath id="hexclip"><path d="M728,787 L745,770.5 H776 L793,787 L776,800.7 H745 Z"/></clipPath>
<path d="M728,787 L745,770.5 H776 L793,787 L776,800.7 H745 Z" stroke="#3a3a3a" stroke-width="1" fill="#fcfdfc" />
<g clip-path="url(#hexclip)">
<line x1="728" y1="772.5" x2="793" y2="772.5" stroke="#777" stroke-width="1" />
<line x1="728" y1="775.0" x2="793" y2="775.0" stroke="#777" stroke-width="1" />
<line x1="728" y1="777.5" x2="793" y2="777.5" stroke="#777" stroke-width="1" />
<line x1="728" y1="780.0" x2="793" y2="780.0" stroke="#777" stroke-width="1" />
<line x1="728" y1="782.5" x2="793" y2="782.5" stroke="#777" stroke-width="1" />
<line x1="728" y1="785.0" x2="793" y2="785.0" stroke="#777" stroke-width="1" />
<line x1="728" y1="787.5" x2="793" y2="787.5" stroke="#777" stroke-width="1" />
<line x1="728" y1="790.0" x2="793" y2="790.0" stroke="#777" stroke-width="1" />
<line x1="728" y1="792.5" x2="793" y2="792.5" stroke="#777" stroke-width="1" />
<line x1="728" y1="795.0" x2="793" y2="795.0" stroke="#777" stroke-width="1" />
<line x1="728" y1="797.5" x2="793" y2="797.5" stroke="#777" stroke-width="1" />
<line x1="728" y1="800.0" x2="793" y2="800.0" stroke="#777" stroke-width="1" />
</g>
<path d="M728,787 L745,770.5 H776 L793,787 L776,800.7 H745 Z" stroke="#3a3a3a" stroke-width="1" fill="none" />
<rect x="744.5" y="772.7" width="19.799999999999955" height="25.799999999999955" fill="#fcfdfc" stroke="#3a3a3a" stroke-width="1" rx="3" shape-rendering="auto"/>
<rect x="767" y="773.8" width="9.399999999999977" height="18.700000000000045" fill="#fcfdfc" stroke="#3a3a3a" stroke-width="1" rx="3" shape-rendering="auto"/>
<path d="M764.3,798.5 L767.5,793.5 H776 L778.5,798.5 Z" stroke="#3a3a3a" stroke-width="0.7" fill="#fcfdfc" />
<circle shape-rendering="auto" cx="758.8" cy="792.5" r="2.8" fill="none" stroke="#333" stroke-width="1.1"/>
<circle shape-rendering="auto" cx="772" cy="783.1" r="2.8" fill="none" stroke="#333" stroke-width="1.1"/>
<circle shape-rendering="auto" cx="769.5" cy="796" r="1.2" fill="none" stroke="#333" stroke-width="0.6"/><circle shape-rendering="auto" cx="774" cy="796" r="1.2" fill="none" stroke="#333" stroke-width="0.6"/>
<line x1="423.5" y1="767.5" x2="540" y2="767.5" stroke="#3a3a3a" stroke-width="1" />
<line x1="460" y1="767.5" x2="460" y2="803" stroke="#777" stroke-width="1" />
<rect x="510.5" y="663" width="25.0" height="31" fill="none" stroke="#3a3a3a" stroke-width="1" />
<line x1="510.5" y1="663" x2="535.5" y2="694" stroke="#3a3a3a" stroke-width="0.8" />
<line x1="535.5" y1="663" x2="510.5" y2="694" stroke="#3a3a3a" stroke-width="0.8" />
<ellipse shape-rendering="auto" cx="488.9" cy="785.4" rx="15.5" ry="13.3" fill="none" stroke="#333" stroke-width="1"/>
<ellipse shape-rendering="auto" cx="488.9" cy="785.4" rx="13.5" ry="11.5" fill="none" stroke="#333" stroke-width="0.8"/>
<circle shape-rendering="auto" cx="488.9" cy="787" r="1.8" fill="none" stroke="#333" stroke-width="0.8"/>
<path d="M476,790 H502 M486,790 V796 H492 V790" stroke="#3a3a3a" stroke-width="0.7" fill="none" />
<text transform="translate(857.5,661.8) scale(0.85,1)" font-size="13" text-anchor="middle" fill="#222">L</text>
<text transform="translate(707.5,799.6) scale(0.85,1)" font-size="13" text-anchor="middle" fill="#222">Z</text>
<text transform="translate(454,781.5) scale(0.85,1)" font-size="13" text-anchor="middle" fill="#222">P</text>
</svg>
</body></html>
